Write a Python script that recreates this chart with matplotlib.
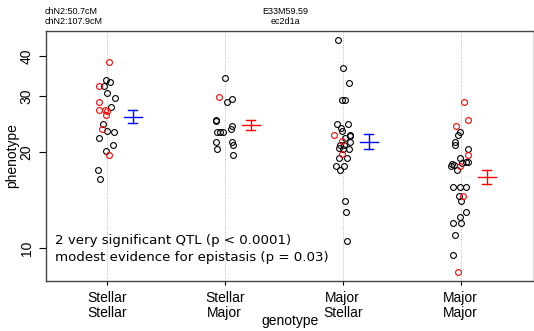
import numpy as np
from matplotlib import pyplot as plt

plt.rcParams['font.family'] = ['Liberation Sans', 'DejaVu Sans']

genotypes = ['Stellar\nStellar', 'Stellar\nMajor', 'Major\nStellar', 'Major\nMajor']

# phenotype values per group, with jitter and red flag (imputed)
g1_val = [38.3, 33.6, 33.2, 32.3, 32.3, 30.7, 29.6, 28.7, 27.7, 27.1, 27.1, 26.8, 26.1,
          24.5, 23.6, 23.3, 23.1, 22.1, 21.0, 20.1, 19.5, 17.6, 16.5]
g1_jit = [0.017, -0.006, 0.031, -0.025, -0.065, 0.0, 0.07, -0.065, 0.034, -0.065, -0.014, 0.0, -0.006,
          -0.034, -0.037, 0.005, 0.064, -0.065, 0.051, -0.008, 0.022, -0.074, -0.054]
g1_red = [1, 0, 0, 0, 1, 0, 0, 1, 0, 1, 1, 1, 1,
          0, 1, 0, 0, 0, 0, 0, 1, 0, 0]

g2_val = [34.2, 29.7, 28.7, 29.3, 25.2, 25.0, 24.2, 23.6, 23.1, 23.1, 23.1, 21.5, 20.5, 21.5, 21.0, 19.5]
g2_jit = [0.0, -0.051, 0.019, 0.065, -0.076, -0.074, 0.059, 0.051, -0.062, -0.04, -0.017, -0.07, -0.062,
          0.059, 0.074, 0.074]
g2_red = [0, 1, 0, 0, 0, 0, 0, 0, 0, 0, 0, 0, 0, 0, 0, 0]

g3_val = [44.9, 36.7, 32.8, 29.2, 29.2, 24.5, 24.5, 23.7, 23.2, 22.6, 22.6, 22.4, 22.1, 21.6, 21.5,
          21.0, 21.0, 20.6, 20.4, 20.4, 19.7, 19.1, 19.1, 18.1, 18.1, 17.6, 14.0, 13.0, 10.5]
g3_jit = [-0.037, 0.0, 0.053, -0.008, 0.022, -0.048, 0.042, -0.014, -0.003, -0.076, 0.059, 0.064, 0.019,
          -0.008, 0.059, -0.023, 0.014, -0.029, 0.005, 0.053, -0.008, -0.034, 0.034, -0.057, 0.008,
          -0.023, 0.022, 0.028, 0.034]
g3_red = [0, 0, 0, 0, 0, 0, 0, 0, 0, 1, 0, 0, 0, 1, 0, 0, 0, 0, 0, 0, 1, 0, 0, 0, 0, 0, 0, 0, 0]

g4_val = [28.6, 25.2, 24.1, 23.1, 22.6, 21.5, 21.0, 20.5, 19.6, 19.1, 18.6, 18.6, 18.5, 18.3, 18.2,
          18.1, 18.1, 17.6, 15.5, 15.5, 15.5, 14.6, 14.6, 14.0, 13.0, 12.5, 12.0, 12.0, 11.0, 9.5, 8.4]
g4_jit = [0.025, 0.057, -0.04, -0.003, -0.028, -0.045, -0.053, 0.059, 0.065, -0.011, 0.042, 0.057,
          0.006, -0.076, -0.057, -0.085, -0.006, -0.031, -0.062, -0.006, 0.045, -0.017, 0.017, 0.003,
          0.042, -0.008, -0.062, 0.0, -0.053, -0.065, -0.028]
g4_red = [1, 1, 1, 0, 0, 0, 0, 0, 1, 0, 0, 0, 0, 0, 0, 0, 1, 0, 0, 0, 0, 0, 1, 0, 0, 0, 0, 0, 0, 0, 1]

# group means and +/- SE
means = [25.8, 24.3, 21.5, 16.7]
se_lo = [24.6, 23.4, 20.5, 15.9]
se_hi = [27.0, 25.2, 22.7, 17.6]
bar_colors = ['#0000FF', '#FF0000', '#0000FF', '#FF0000']

groups = [(g1_val, g1_jit, g1_red), (g2_val, g2_jit, g2_red),
          (g3_val, g3_jit, g3_red), (g4_val, g4_jit, g4_red)]

fig = plt.figure(figsize=(5.34, 3.31), dpi=100)
ax = fig.add_axes([46 / 534, 50 / 331, 488 / 534, 250 / 331])

for i, (vals, jit, red) in enumerate(groups):
    x0 = i + 1
    ax.axvline(x0, color='#bbbbbb', lw=0.7, ls=(0, (1, 1.5)), zorder=0)
    xs = x0 + np.array(jit)
    vals = np.array(vals)
    red = np.array(red, dtype=bool)
    ax.plot(xs[~red], vals[~red], 'o', mfc='none', mec='black', ms=4.2, mew=0.8, zorder=2)
    ax.plot(xs[red], vals[red], 'o', mfc='none', mec='#FF0000', ms=4.2, mew=0.8, zorder=3)

    # mean +/- SE
    xm = x0 + 0.22
    c = bar_colors[i]
    ax.plot([xm, xm], [se_lo[i], se_hi[i]], color=c, lw=1)
    ax.plot([xm - 0.076, xm + 0.076], [means[i], means[i]], color=c, lw=1)
    ax.plot([xm - 0.038, xm + 0.038], [se_lo[i], se_lo[i]], color=c, lw=1)
    ax.plot([xm - 0.038, xm + 0.038], [se_hi[i], se_hi[i]], color=c, lw=1)

ax.set_yscale('log')
ax.set_ylim(7.88, 47.9)
ax.set_xlim(0.486, 4.62)
ax.set_yticks([10, 20, 30, 40])
ax.set_yticklabels(['10', '20', '30', '40'], rotation=90, va='center', fontsize=10)
ax.minorticks_off()
ax.set_xticks([1, 2, 3, 4])
ax.set_xticklabels(genotypes, fontsize=10, linespacing=1.1)
ax.tick_params(axis='x', length=3, pad=4)
ax.tick_params(axis='y', length=5, pad=4)
ax.set_ylabel('phenotype', fontsize=10, labelpad=0)
ax.set_xlabel('genotype', fontsize=10, labelpad=-4)
for s in ax.spines.values():
    s.set_color('#444444')
    s.set_linewidth(1)

ax.text(0.018, 0.128, '2 very significant QTL (p < 0.0001)\nmodest evidence for epistasis (p = 0.03)',
        transform=ax.transAxes, fontsize=9.6, va='center', ha='left', linespacing=1.35,
        family=['DejaVu Sans'])

fig.text(45 / 534, 1 - 11 / 331, 'chN2:50.7cM', fontsize=6.5, va='center', ha='left')
fig.text(45 / 534, 1 - 22 / 331, 'chN2:107.9cM', fontsize=6.5, va='center', ha='left')
fig.text(285 / 534, 1 - 11 / 331, 'E33M59.59', fontsize=6.5, va='center', ha='center')
fig.text(285 / 534, 1 - 22 / 331, 'ec2d1a', fontsize=6.5, va='center', ha='center')

fig.savefig('out.png', dpi=100)
